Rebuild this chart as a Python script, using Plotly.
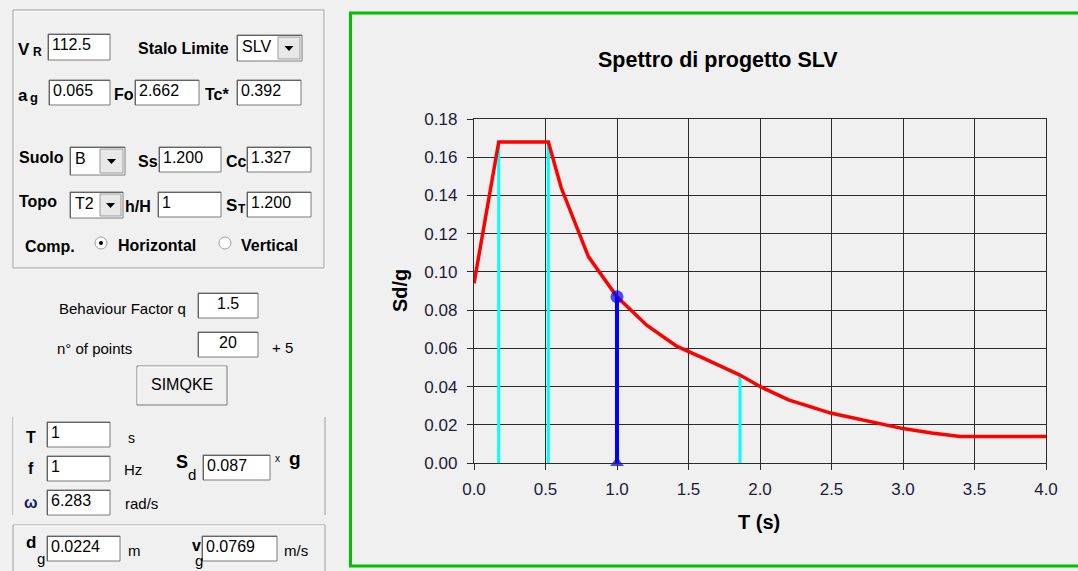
import plotly.graph_objects as go

# ---------------- chart data ----------------
T_curve = [0.0, 0.173, 0.52, 0.61, 0.80, 1.0, 1.21, 1.42, 1.60, 1.86, 2.0, 2.2, 2.5, 2.8, 3.0, 3.2, 3.4, 4.0]
Sd_curve = [0.094, 0.168, 0.168, 0.144, 0.108, 0.087, 0.072, 0.061, 0.055, 0.046, 0.040, 0.033, 0.026, 0.021, 0.018, 0.0157, 0.0139, 0.0139]
T_marks = [0.173, 0.52, 1.86]          # TB, TC, TD
Sd_marks = [0.168, 0.168, 0.046]
T_sel = [1.0]
Sd_sel = [0.087]
x_ticks = [0.0, 0.5, 1.0, 1.5, 2.0, 2.5, 3.0, 3.5, 4.0]
x_tick_labels = ["0.0", "0.5", "1.0", "1.5", "2.0", "2.5", "3.0", "3.5", "4.0"]
y_ticks = [0.00, 0.02, 0.04, 0.06, 0.08, 0.10, 0.12, 0.14, 0.16, 0.18]
y_tick_labels = ["0.00", "0.02", "0.04", "0.06", "0.08", "0.10", "0.12", "0.14", "0.16", "0.18"]

W, H = 1078, 571
L, R, TOP, B = 474, 32, 119, 108
PW, PH = W - L - R, H - TOP - B
BG = "#f0f0f0"
FONT = "Arial, Liberation Sans, sans-serif"
LB = 16      # bold label size
LR = 15      # regular label size
BX = 16      # text-box content size


def px(x):
    return (x - L) / PW


def py(y):
    return (H - B - y) / PH


fig = go.Figure()

for t, s in zip(T_marks, Sd_marks):
    fig.add_trace(go.Scatter(x=[t, t], y=[0, s], mode="lines",
                             line=dict(color="#00ffff", width=3), showlegend=False, hoverinfo="skip"))

fig.add_trace(go.Scatter(x=T_curve, y=Sd_curve, mode="lines",
                         line=dict(color="#ff0000", width=3.5), showlegend=False))

fig.add_trace(go.Scatter(x=[T_sel[0], T_sel[0]], y=[0, Sd_sel[0]], mode="lines+markers",
                         line=dict(color="#0000ff", width=4), cliponaxis=False,
                         marker=dict(symbol=["triangle-up", "circle"], size=[12, 13], color="#0000ff",
                                     line=dict(width=0)),
                         showlegend=False))

shapes = []
annotations = []


def rect(x0, y0, x1, y1, fill="white", line="#7a7a7a", width=1):
    shapes.append(dict(type="rect", xref="paper", yref="paper",
                       x0=px(x0), x1=px(x1), y0=py(y0), y1=py(y1),
                       fillcolor=fill, line=dict(color=line, width=width), layer="above"))


def hline(x0, x1, y, color="#a0a0a0", width=1):
    shapes.append(dict(type="line", xref="paper", yref="paper",
                       x0=px(x0), x1=px(x1), y0=py(y), y1=py(y),
                       line=dict(color=color, width=width), layer="above"))


def vline(x, y0, y1, color="#a0a0a0", width=1):
    shapes.append(dict(type="line", xref="paper", yref="paper",
                       x0=px(x), x1=px(x), y0=py(y0), y1=py(y1),
                       line=dict(color=color, width=width), layer="above"))


def text(x, y, s, size=LR, bold=False, anchor="left", color="#000000"):
    if bold:
        s = "<b>" + s + "</b>"
    annotations.append(dict(xref="paper", yref="paper", x=px(x), y=py(y), text=s,
                            showarrow=False, xanchor=anchor, yanchor="middle",
                            font=dict(family=FONT, size=size, color=color)))


def textbox(x0, y0, x1, y1, s, align="left"):
    rect(x0, y0, x1, y1)
    hline(x0, x1, y0 + 0.5, color="#646464")
    vline(x0 + 0.5, y0, y1, color="#646464")
    if align == "left":
        text(x0 + 2, y0 + 10, s, size=BX)
    else:
        text((x0 + x1) / 2, y0 + 10, s, size=BX, anchor="center")


def dropdown(x0, y0, x1, y1, s, bx0):
    rect(x0, y0, x1, y1)
    hline(x0, x1, y0 + 0.5, color="#646464")
    vline(x0 + 0.5, y0, y1, color="#646464")
    rect(bx0, y0 + 2, x1 - 2, y1 - 2, fill="#e8e8e8", line="#9a9a9a")
    cx = (bx0 + x1 - 2) / 2
    cy = (y0 + y1) / 2
    shapes.append(dict(type="path", xref="paper", yref="paper",
                       path="M %f %f L %f %f L %f %f Z" % (px(cx - 4.5), py(cy - 2), px(cx + 4.5), py(cy - 2), px(cx), py(cy + 3)),
                       fillcolor="#000000", line=dict(color="#000000", width=0), layer="above"))
    text(x0 + 3, y0 + 11, s, size=BX)


def radio(cx, cy, checked):
    shapes.append(dict(type="circle", xref="paper", yref="paper",
                       x0=px(cx - 6), x1=px(cx + 6), y0=py(cy - 6), y1=py(cy + 6),
                       fillcolor="white", line=dict(color="#a0a0a0", width=1), layer="above"))
    if checked:
        shapes.append(dict(type="circle", xref="paper", yref="paper",
                           x0=px(cx - 2), x1=px(cx + 2), y0=py(cy - 2), y1=py(cy + 2),
                           fillcolor="#000000", line=dict(color="#000000", width=0), layer="above"))


# green frame around the chart
shapes.append(dict(type="rect", xref="paper", yref="paper",
                   x0=px(350.5), x1=px(1085), y0=py(13), y1=py(566),
                   fillcolor="rgba(0,0,0,0)", line=dict(color="#00c000", width=3), layer="below"))

# ---------------- left panel ----------------
# group box 1
rect(14, 11, 325, 269, fill="rgba(0,0,0,0)", line="#ffffff")
rect(13, 10, 324, 268, fill="rgba(0,0,0,0)", line="#a0a0a0")

text(16, 49, "V", size=17, bold=True)
text(31, 52, "R", size=12, bold=True)
textbox(48, 34, 110, 60, "112.5")
text(136, 48, "Stalo Limite", size=LB, bold=True)
dropdown(237, 35, 302, 61, "SLV", 278)

text(16, 95, "a", size=17, bold=True)
text(28, 98, "g", size=13, bold=True)
textbox(49, 80, 110, 105, "0.065")
text(112, 94, "Fo", size=LB, bold=True)
textbox(135, 80, 199, 105, "2.662")
text(203, 94, "Tc*", size=LB, bold=True)
textbox(237, 80, 301, 105, "0.392")

text(17, 157, "Suolo", size=LB, bold=True)
dropdown(70, 147, 125, 175, "B", 100)
text(136, 161, "Ss", size=LB, bold=True)
textbox(159, 147, 221, 172, "1.200")
text(224, 161, "Cc", size=LB, bold=True)
textbox(247, 147, 311, 172, "1.327")

text(17, 201, "Topo", size=LB, bold=True)
dropdown(70, 192, 123, 218, "T2", 100)
text(123, 206, "h/H", size=LB, bold=True)
textbox(158, 192, 221, 217, "1")
text(224, 205, "S", size=17, bold=True)
text(236, 209, "T", size=12, bold=True)
textbox(247, 192, 311, 217, "1.200")

text(23, 246, "Comp.", size=LB, bold=True)
radio(101, 243, True)
text(116, 245, "Horizontal", size=LB, bold=True)
radio(225, 243, False)
text(239, 245, "Vertical", size=LB, bold=True)

# behaviour factor, points, button
text(57, 308, "Behaviour Factor q", size=LR)
textbox(198, 293, 258, 318, "1.5", align="center")
text(55, 348, "n° of points", size=LR)
textbox(198, 332, 258, 357, "20", align="center")
text(270, 347, "+ 5", size=LR)
rect(137, 366, 227, 405, fill="#f0f0f0", line="#7a7a7a")
hline(138, 226, 367, color="#ffffff")
vline(138, 367, 404, color="#ffffff")
text(182, 384, "SIMQKE", size=16, anchor="center")

# group box 2 (period)
vline(13, 417, 515)
vline(14, 417, 515, color="#ffffff")
vline(325, 417, 515)
text(24, 437, "T", size=LB, bold=True)
textbox(47, 422, 110, 447, "1")
text(126, 438, "s", size=14)
text(26, 468, "f", size=LB, bold=True)
textbox(47, 456, 110, 481, "1")
text(122, 469, "Hz", size=LR)
text(174, 462, "S", size=18, bold=True)
text(186, 474, "d", size=15)
textbox(203, 455, 270, 480, "0.087")
text(273, 458, "x", size=10)
text(287, 458, "g", size=19, bold=True)
text(22, 502, "ω", size=16, bold=True, color="#1a1a60")
textbox(47, 490, 110, 515, "6.283")
text(123, 503, "rad/s", size=LR)

# group box 3 (displacement / velocity)
hline(13, 325, 525)
hline(14, 324, 526, color="#ffffff")
vline(13, 525, 575)
vline(325, 525, 575)
text(24, 542, "d", size=17, bold=True)
text(35, 558, "g", size=15)
textbox(47, 536, 120, 561, "0.0224")
text(126, 550, "m", size=LR)
text(190, 545, "v", size=16, bold=True)
text(193, 560, "g", size=15)
textbox(202, 536, 277, 561, "0.0769")
text(282, 550, "m/s", size=LR)

# ---------------- chart texts ----------------
text(718, 60, "Spettro di progetto SLV", size=21.5, bold=True, anchor="center")
text(759, 522, "T (s)", size=20, bold=True, anchor="center")
annotations.append(dict(xref="paper", yref="paper", x=px(400), y=py(291), text="<b>Sd/g</b>",
                        textangle=-90, showarrow=False, xanchor="center", yanchor="middle",
                        font=dict(family=FONT, size=20, color="#000000")))

fig.update_layout(
    width=W, height=H, autosize=False,
    margin=dict(l=L, r=R, t=TOP, b=B, pad=0),
    paper_bgcolor=BG, plot_bgcolor=BG,
    shapes=shapes, annotations=annotations,
    font=dict(family=FONT, size=17, color="#1c1c3a"),
    xaxis=dict(range=[0, 4], tickvals=x_ticks, ticktext=x_tick_labels,
               showgrid=True, gridcolor="#2b2b2b", gridwidth=1.3, zeroline=False,
               showline=True, linecolor="#2b2b2b", linewidth=1.3, mirror=True,
               ticks="outside", ticklen=6, tickcolor="#2b2b2b", tickwidth=1.3,
               ticklabelstandoff=4, tickfont=dict(size=17), fixedrange=True),
    yaxis=dict(range=[0, 0.18], tickvals=y_ticks, ticktext=y_tick_labels,
               showgrid=True, gridcolor="#2b2b2b", gridwidth=1.3, zeroline=False,
               showline=True, linecolor="#2b2b2b", linewidth=1.3, mirror=True,
               ticks="outside", ticklen=6, tickcolor="#2b2b2b", tickwidth=1.3,
               ticklabelstandoff=6, tickfont=dict(size=17), fixedrange=True),
    showlegend=False,
)

fig.write_html("out.html", config={"displayModeBar": False},
               post_script="document.body.style.margin='0';document.body.style.overflow='hidden';")
